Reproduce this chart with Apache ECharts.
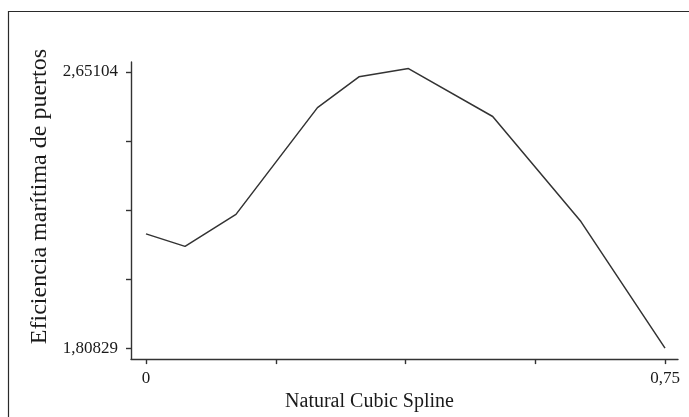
<!DOCTYPE html>
<html>
<head>
<meta charset="utf-8">
<script src="https://cdn.jsdelivr.net/npm/echarts@6/dist/echarts.min.js"></script>
<style>html,body{margin:0;padding:0;background:#fff;}#c{width:689px;height:417px;}</style>
</head>
<body>
<div id="c"></div>
<script>
// Data
var xValues = [0, 0.0564, 0.130, 0.2478, 0.3077, 0.3793, 0.501, 0.6285, 0.75];
var yValues = [2.1570, 2.1189, 2.2165, 2.5422, 2.6360, 2.6611, 2.5150, 2.1945, 1.80829];
var yTickLabels = [1.80829, 2.65104];
var xTickLabels = [0, 0.75];
var xTickCount = 5;
var yTickCount = 5;

var font = "'Liberation Serif','DejaVu Serif',serif";
var lineColor = '#333333';

// axis lines extend a little beyond data range (pixel pads converted to data)
var gridLeft = 131, gridRight = 11, gridTop = 62, gridBottom = 55;
var W = 689, H = 417;
var plotW = W - gridLeft - gridRight, plotH = H - gridTop - gridBottom;
var xPadL = 15, xPadR = 13, yPadB = 11, yPadT = 10;
var xMin0 = xTickLabels[0], xMax0 = xTickLabels[1];
var yMin0 = yTickLabels[0], yMax0 = yTickLabels[1];
var xScale = (xMax0 - xMin0) / (plotW - xPadL - xPadR);
var yScale = (yMax0 - yMin0) / (plotH - yPadB - yPadT);
var xMin = xMin0 - xPadL * xScale, xMax = xMax0 + xPadR * xScale;
var yMin = yMin0 - yPadB * yScale, yMax = yMax0 + yPadT * yScale;

var xTicks = [], yTicks = [];
for (var i = 0; i < xTickCount; i++) xTicks.push(xMin0 + (xMax0 - xMin0) * i / (xTickCount - 1));
for (var j = 0; j < yTickCount; j++) yTicks.push(yMin0 + (yMax0 - yMin0) * j / (yTickCount - 1));

function fmt(v) { return String(v).replace('.', ','); }

var chart = echarts.init(document.getElementById('c'), null, {renderer: 'canvas'});
chart.setOption({
  animation: false,
  backgroundColor: '#fff',
  graphic: [{
    type: 'rect', shape: {x: 8.5, y: 11.5, width: 700, height: 420},
    style: {fill: 'none', stroke: '#2a2a2a', lineWidth: 1.2}, silent: true, z: -1
  }],
  grid: {left: gridLeft, right: gridRight, top: gridTop, bottom: gridBottom, containLabel: false},
  xAxis: {
    type: 'value', min: xMin, max: xMax,
    name: 'Natural Cubic Spline', nameLocation: 'middle', nameGap: 28,
    nameTextStyle: {fontFamily: font, fontSize: 20, color: '#1a1a1a', padding: [0, 70, 0, 0]},
    axisLine: {show: true, onZero: false, lineStyle: {color: lineColor, width: 1.4}},
    axisTick: {show: true, length: 5, customValues: xTicks, lineStyle: {color: lineColor, width: 1.4}},
    axisLabel: {customValues: xTickLabels, formatter: fmt, margin: 11, fontFamily: font, fontSize: 17, color: '#1a1a1a'},
    splitLine: {show: false}
  },
  yAxis: {
    type: 'value', min: yMin, max: yMax,
    name: 'Eficiencia marítima de puertos', nameLocation: 'middle', nameGap: 77, nameRotate: 90,
    nameTextStyle: {fontFamily: font, fontSize: 24, color: '#1a1a1a', padding: [0, 0, 0, 28]},
    axisLine: {show: true, onZero: false, lineStyle: {color: lineColor, width: 1.4}},
    axisTick: {show: true, length: 5, customValues: yTicks, lineStyle: {color: lineColor, width: 1.4}},
    axisLabel: {customValues: yTickLabels, formatter: fmt, margin: 13, fontFamily: font, fontSize: 17, color: '#1a1a1a'},
    splitLine: {show: false}
  },
  series: [{
    type: 'line',
    data: xValues.map(function (x, k) { return [x, yValues[k]]; }),
    showSymbol: false, symbol: 'none',
    lineStyle: {color: lineColor, width: 1.5}
  }]
});
</script>
</body>
</html>
